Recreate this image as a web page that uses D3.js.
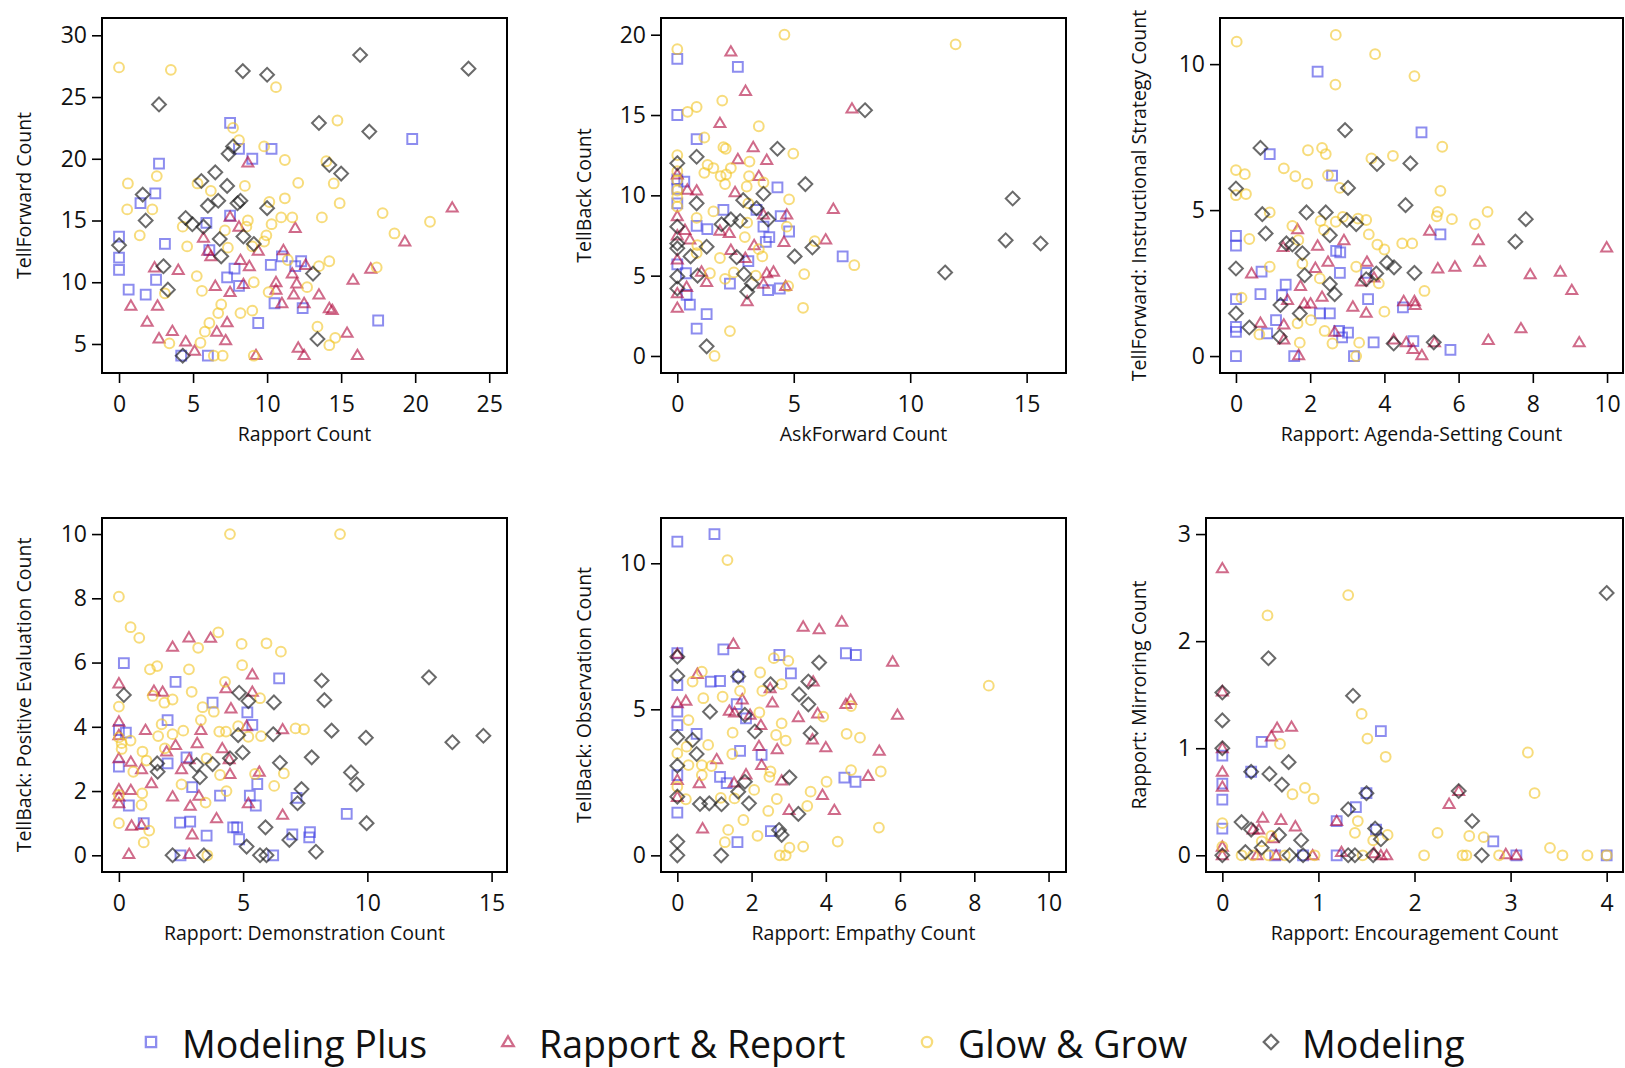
<!DOCTYPE html>
<html>
<head>
<meta charset="utf-8">
<script src="https://cdn.jsdelivr.net/npm/d3@7"></script>
<style>
  body { margin: 0; background: #fff; }
  svg { display: block; }
  text { font-family: "Open Sans", sans-serif; fill: #111; }
</style>
</head>
<body>
<svg id="chart" width="1625" height="1068"></svg>
<script>
// groups, in legend order
const groups = ["Modeling Plus", "Rapport & Report", "Glow & Grow", "Modeling"];

// panel 1: Rapport Count vs TellForward Count
const p1MP = [[7.5,22.9],[19.8,21.6],[8.1,20.8],[10.3,20.8],[9.0,20.0],[2.7,19.6],[2.45,17.2],[1.45,16.4],[5.9,14.8],[7.5,15.4],[0,13.7],[3.1,13.1],[6.1,12.6],[0,12.0],[0,11.0],[0.65,9.4],[1.8,9.0],[7.3,10.4],[7.8,11.1],[8.1,9.7],[10.25,11.4],[11.0,12.1],[11.9,11.3],[12.3,11.7],[10.5,8.3],[12.4,7.9],[9.4,6.7],[17.5,6.9],[6.0,4.05],[4.2,4.05],[2.5,10.2]];
const p1RR = [[8.7,19.7],[22.5,16.05],[7.5,15.3],[8.1,14.5],[11.9,14.4],[5.7,13.6],[19.3,13.3],[6.0,12.55],[6.2,12.1],[9.4,12.55],[11.1,12.6],[8.2,11.8],[2.4,11.2],[4.0,11.0],[8.8,11.3],[11.7,10.7],[12.6,11.4],[17.0,11.1],[10.6,10.0],[15.8,10.2],[6.5,9.7],[8.4,9.85],[12.0,9.9],[10.6,9.4],[7.5,9.2],[11.8,9.0],[13.5,9.0],[0.8,8.1],[2.6,8.1],[11.0,8.3],[12.5,8.3],[14.2,7.9],[14.4,7.75],[1.9,6.8],[7.3,6.75],[2.7,5.45],[3.6,6.05],[6.6,6.0],[7.2,5.3],[4.5,5.2],[5.1,4.45],[15.4,5.9],[12.1,4.7],[12.5,4.1],[16.1,4.1],[9.25,4.1]];
const p1GG = [[0,27.4],[3.5,27.2],[10.6,25.8],[14.75,23.1],[7.7,22.5],[8.1,21.5],[9.8,21.0],[11.2,19.9],[14.0,19.8],[2.55,18.6],[0.6,18.0],[5.3,18.0],[8.5,17.8],[12.1,18.05],[14.5,18.0],[6.2,17.4],[11.2,16.8],[10.15,16.5],[14.9,16.4],[0.55,15.9],[2.25,15.9],[17.8,15.6],[8.7,15.0],[13.7,15.25],[10.95,15.25],[11.7,15.25],[10.3,14.7],[21.0,14.9],[4.3,14.5],[7.15,14.2],[1.4,13.8],[9.95,13.8],[8.6,14.5],[18.6,13.95],[4.6,12.9],[7.35,12.8],[9.0,12.9],[9.8,13.3],[11.4,11.8],[13.5,11.3],[14.2,11.7],[17.4,11.2],[5.25,10.5],[5.6,9.3],[9.1,10.0],[10.1,9.2],[12.7,9.6],[6.9,8.2],[6.7,7.5],[8.2,7.5],[9.0,7.7],[6.1,6.7],[5.8,6.0],[5.5,5.1],[3.4,5.05],[13.4,6.4],[14.6,5.5],[14.2,4.9],[6.4,4.05],[7.0,4.05],[9.1,4.05],[3.1,9.1]];
const p1MO = [[16.28,28.4],[8.36,27.1],[10.0,26.8],[23.6,27.3],[2.7,24.4],[13.5,22.9],[16.9,22.2],[7.7,21.0],[7.4,20.4],[14.2,19.5],[15.0,18.8],[6.5,18.9],[5.56,18.2],[7.3,17.8],[1.6,17.1],[6.0,16.2],[6.7,16.6],[8.2,16.6],[8.0,16.4],[10.0,16.0],[1.8,15.0],[4.5,15.2],[4.95,14.7],[5.7,14.5],[6.8,13.5],[8.4,13.7],[9.1,13.1],[0,13.0],[6.9,12.1],[3.0,11.3],[13.1,10.7],[3.3,9.4],[13.4,5.4],[4.3,4.05]];

// panel 2: AskForward Count vs TellBack Count
const p2MP = [[0,18.5],[2.6,18.0],[0,15.0],[0.83,13.5],[0.3,10.85],[0,11.0],[0,10.4],[0,9.5],[4.3,10.5],[1.98,9.1],[3.4,9.1],[4.44,8.7],[0.83,8.1],[1.29,7.9],[3.7,8.05],[4.8,7.75],[3.95,7.4],[3.8,7.1],[7.1,6.2],[3.05,5.9],[0.37,5.15],[0,5.7],[2.26,4.5],[0.4,3.8],[0.54,3.2],[3.9,4.1],[4.4,4.2],[1.26,2.6],[0.83,1.7]];
const p2RR = [[2.3,18.95],[2.93,16.5],[7.5,15.4],[1.83,14.5],[3.26,13.0],[2.6,12.25],[3.84,12.2],[0,11.3],[3.5,11.2],[0.43,10.35],[0.83,10.3],[2.48,10.2],[6.7,9.15],[4.7,8.8],[0,8.7],[3.7,8.8],[1.83,7.8],[2.23,7.65],[0.33,7.85],[0.54,7.25],[0,7.5],[4.58,7.1],[3.3,6.9],[6.37,7.25],[2.3,6.6],[2.92,6.1],[0,6.0],[3.84,5.15],[4.13,5.25],[1.04,5.25],[1.26,4.6],[0.4,4.3],[3.7,4.5],[4.65,4.35],[0,3.9],[3.0,3.4],[0,3.0]];
const p2GG = [[4.6,20.0],[11.95,19.4],[0,19.1],[1.93,15.9],[0.44,15.2],[0.83,15.5],[3.5,14.3],[1.16,13.6],[1.98,13.0],[2.08,12.9],[0,12.5],[4.98,12.6],[3.1,12.1],[1.3,11.9],[1.55,11.7],[2.3,11.7],[1.16,11.4],[1.86,11.2],[2.1,11.3],[3.08,11.2],[0,10.95],[2.05,10.7],[2.98,10.55],[3.7,10.8],[4.8,9.75],[0,9.9],[1.55,9.0],[3.05,9.5],[0.83,8.6],[3.0,8.3],[4.7,8.05],[0.86,6.9],[2.9,7.4],[5.9,7.15],[3.5,6.65],[3.65,6.2],[0.83,6.4],[1.83,6.1],[1.4,5.15],[2.05,4.8],[2.43,5.2],[3.37,5.0],[5.45,5.1],[7.6,5.65],[4.76,4.35],[5.4,3.0],[2.26,1.55],[1.6,0],[0,9.3],[0,10.3],[0,11.5]];
const p2MO = [[8.06,15.3],[4.3,12.9],[0.83,12.4],[0,12.0],[5.5,10.7],[14.4,9.8],[0.83,9.5],[2.83,9.7],[3.7,10.1],[3.4,9.2],[3.9,8.5],[2.7,8.4],[2.3,8.5],[1.9,8.2],[0,8.05],[0,7.0],[0,6.7],[1.26,6.8],[0.57,6.2],[2.55,6.15],[5.04,6.2],[5.8,6.75],[14.1,7.2],[15.6,7.0],[11.5,5.2],[2.86,5.1],[3.2,4.5],[3.0,4.0],[0.87,5.0],[0,4.95],[0,4.2],[1.26,0.6]];

// panel 3: Rapport: Agenda-Setting Count vs TellForward: Instructional Strategy Count
const p3MP = [[2.2,9.74],[5.0,7.66],[0.91,6.92],[2.59,6.18],[0,4.12],[0,3.78],[5.51,4.17],[2.7,3.6],[2.81,3.55],[0.69,2.89],[2.8,2.85],[3.51,2.85],[1.34,2.45],[0.66,2.12],[1.24,2.09],[3.56,1.95],[0,1.95],[2.26,1.46],[2.53,1.46],[4.5,1.67],[1.08,1.23],[0,1.0],[0,0.83],[0.84,0.78],[2.78,0.86],[3.02,0.8],[2.86,0.64],[3.71,0.47],[4.78,0.51],[5.78,0.21],[0,0],[1.57,0],[3.18,0]];
const p3RR = [[1.66,4.34],[5.22,4.29],[2.2,3.78],[2.91,3.97],[1.27,3.74],[6.53,3.97],[9.99,3.72],[2.48,3.23],[3.53,3.23],[6.57,3.23],[0.42,2.83],[2.14,3.02],[5.44,3.0],[5.9,3.06],[7.93,2.8],[8.74,2.89],[3.38,2.55],[3.72,2.69],[1.74,2.4],[9.05,2.26],[2.32,2.03],[1.39,1.92],[1.84,1.8],[2.01,1.8],[4.52,1.88],[4.81,1.88],[3.15,1.69],[4.83,1.75],[3.51,1.48],[0.66,1.14],[1.29,1.08],[7.68,0.95],[2.66,0.83],[1.29,0.57],[6.8,0.55],[4.25,0.57],[4.59,0.47],[4.77,0.24],[9.25,0.47],[5.01,0.03],[1.69,0.03],[5.35,0.47]];
const p3GG = [[0.02,10.77],[2.69,11.0],[3.75,10.34],[2.68,9.3],[4.81,9.59],[2.32,7.13],[1.94,7.05],[2.42,6.92],[5.56,7.17],[4.23,6.86],[3.65,6.77],[0,6.37],[0.24,6.23],[1.29,6.43],[1.6,6.16],[1.92,5.91],[2.48,6.2],[2.8,5.76],[0,5.51],[0.27,5.55],[5.51,5.66],[0.91,4.92],[2.28,4.63],[2.69,4.6],[2.88,4.77],[3.29,4.71],[3.51,4.66],[5.44,4.94],[5.41,4.79],[5.82,4.69],[6.78,4.94],[6.44,4.52],[1.52,4.46],[2.37,4.32],[3.58,4.17],[0.36,4.01],[1.68,3.97],[3.81,3.82],[4.0,3.65],[4.48,3.86],[4.75,3.86],[1.79,3.17],[0.91,3.06],[3.24,3.06],[2.26,2.66],[3.85,2.49],[5.08,2.23],[0.15,2.0],[4.0,1.52],[2.02,1.23],[1.66,1.12],[2.39,0.86],[0.63,0.74],[1.72,0.46],[2.6,0.43],[3.32,0.46],[3.24,0]];
const p3MO = [[2.94,7.74],[0.66,7.13],[3.8,6.58],[4.7,6.6],[0,5.74],[3.02,5.76],[4.57,5.17],[0.71,4.86],[1.9,4.92],[2.42,4.92],[2.99,4.66],[3.24,4.52],[7.81,4.69],[0.8,4.2],[2.53,4.14],[1.36,3.86],[1.52,3.82],[1.79,3.52],[7.53,3.92],[0,3.0],[1.85,2.77],[4.07,3.2],[4.26,3.04],[3.78,2.83],[3.51,2.63],[4.81,2.85],[2.53,2.47],[2.66,2.12],[1.2,1.75],[1.72,1.46],[0,1.46],[0.36,0.98],[1.18,0.66],[4.25,0.43],[5.33,0.47]];

// panel 4: Rapport: Demonstration Count vs TellBack: Positive Evaluation Count
const p4MP = [[0.2,5.98],[6.45,5.51],[2.28,5.4],[3.77,4.75],[5.17,4.45],[5.37,4.06],[1.96,4.21],[0,3.9],[0.28,3.82],[0,2.76],[2.72,3.05],[1.96,2.86],[2.95,2.12],[5.57,2.22],[4.07,1.86],[5.27,1.86],[5.51,1.55],[7.15,1.79],[9.17,1.29],[0.4,1.55],[1.0,1.0],[2.46,1.02],[2.87,1.05],[4.6,0.87],[4.76,0.87],[4.84,0.5],[3.53,0.61],[7.69,0.72],[7.66,0.56],[6.98,0.65],[2.48,0],[6.21,0]];
const p4RR = [[2.82,6.78],[3.69,6.77],[2.16,6.49],[0,5.35],[5.37,5.63],[1.41,5.12],[1.76,5.09],[4.31,5.2],[5.37,5.09],[4.51,4.57],[0,4.16],[5.14,4.02],[6.59,3.92],[1.07,3.9],[3.3,3.9],[0,3.74],[3.15,3.49],[2.28,3.43],[4.16,3.33],[1.92,3.23],[0,3.02],[0.48,2.91],[0.91,2.68],[2.83,2.99],[4.44,2.99],[2.52,2.68],[4.47,2.53],[5.65,2.6],[1.31,2.24],[0,2.05],[0.48,2.03],[0,1.83],[0,1.62],[2.16,1.83],[3.22,1.85],[2.87,1.54],[5.21,1.62],[6.59,1.26],[3.93,1.15],[0.51,0.92],[0.91,0.94],[2.95,0.65],[0.4,0.04],[2.83,0.04]];
const p4GG = [[4.47,10.0],[8.9,10.0],[0,8.05],[0.47,7.1],[0.82,6.77],[4.0,6.94],[3.19,6.46],[4.94,6.58],[5.94,6.6],[6.52,6.34],[1.54,5.89],[1.25,5.79],[2.82,5.79],[4.96,5.92],[2.93,5.09],[4.27,5.4],[1.36,4.96],[2.16,4.85],[1.83,4.75],[5.68,4.89],[0,4.63],[3.37,4.61],[3.82,4.47],[3.3,4.21],[1.72,4.08],[7.11,3.95],[7.45,3.92],[4.8,4.02],[2.59,3.88],[4.04,3.85],[4.31,3.85],[5.21,3.69],[5.72,3.71],[1.58,3.71],[2.16,3.77],[0,3.67],[0.11,3.49],[0.47,3.57],[0.11,3.31],[1.85,3.33],[0.95,3.23],[3.53,3.02],[1.11,2.95],[0.58,2.6],[4.07,2.5],[5.48,2.53],[6.64,2.55],[2.52,2.21],[6.25,2.16],[4.33,2.0],[0,1.88],[0.94,1.93],[0.91,1.57],[3.49,1.64],[0,1.0],[1.22,0.77],[1.0,0.4],[3.56,0]];
const p4MO = [[12.48,5.54],[8.16,5.44],[8.27,4.83],[0.2,4.99],[4.84,5.06],[5.21,4.8],[6.24,4.76],[8.56,3.88],[13.42,3.52],[14.67,3.72],[9.94,3.66],[6.21,3.77],[4.8,3.74],[4.98,3.2],[4.47,3.02],[6.48,2.88],[7.76,3.05],[1.54,2.86],[1.56,2.6],[3.13,2.81],[3.26,2.43],[3.77,2.84],[9.34,2.58],[9.57,2.21],[7.35,2.06],[7.19,1.62],[9.97,1.0],[5.9,0.87],[5.14,0.27],[6.86,0.48],[7.93,0.11],[2.16,0],[3.42,0],[5.68,0],[5.94,0]];

// panel 5: Rapport: Empathy Count vs TellBack: Observation Count
const p5MP = [[0,10.74],[1.0,11.0],[1.24,7.05],[2.75,6.86],[4.54,6.92],[4.81,6.86],[0,6.92],[3.06,6.23],[0,5.83],[0.9,5.95],[1.15,5.97],[1.64,6.12],[1.6,5.18],[1.85,4.69],[0,4.92],[0,4.46],[0.52,4.16],[1.69,3.58],[2.27,3.44],[0,2.75],[1.15,2.69],[1.33,2.47],[4.5,2.66],[4.8,2.52],[0,1.46],[2.52,0.83],[1.62,0.45]];
const p5RR = [[4.43,8.0],[3.39,7.83],[3.82,7.74],[1.51,7.24],[0,6.9],[5.8,6.63],[0.54,6.21],[3.66,5.95],[2.5,5.72],[0,5.21],[0.23,5.29],[1.75,5.34],[2.56,5.23],[4.54,5.18],[4.67,5.32],[1.4,4.95],[1.54,4.89],[3.78,4.86],[1.96,4.81],[5.93,4.81],[3.26,4.73],[2.25,4.46],[3.64,3.97],[2.2,3.74],[4.0,3.7],[2.69,3.63],[5.44,3.58],[1.06,3.29],[2.27,3.09],[1.85,2.77],[5.14,2.72],[0,2.58],[0.59,2.47],[1.53,2.49],[2.81,2.56],[3.91,2.07],[3.01,1.55],[4.23,1.55],[0.68,0.92],[0,2.0]];
const p5GG = [[1.35,10.11],[8.39,5.81],[2.6,6.75],[2.99,6.66],[0.66,6.29],[0.41,5.95],[2.23,6.26],[2.81,5.86],[2.29,5.63],[1.22,5.43],[1.69,5.63],[0.7,5.38],[2.21,4.89],[0.3,4.63],[2.81,4.52],[3.93,4.75],[4.68,5.11],[1.49,4.2],[2.66,4.12],[4.56,4.16],[4.92,4.03],[2.92,3.93],[0.83,3.78],[0.25,3.72],[0,3.49],[1.48,3.47],[0.3,3.09],[0.66,3.09],[0.92,3.06],[0.66,2.75],[0,2.35],[2.51,2.87],[2.48,2.69],[4.02,2.52],[4.68,2.92],[5.48,2.87],[2.07,2.24],[3.59,2.18],[0.23,1.92],[1.17,1.97],[1.54,1.95],[2.68,1.93],[2.45,1.52],[3.5,1.69],[1.78,1.21],[1.37,0.87],[5.43,0.95],[2.16,0.67],[1.28,0.45],[3.02,0.26],[3.39,0.3],[4.32,0.47],[2.76,0],[2.92,0]];
const p5MO = [[0,6.8],[3.82,6.6],[0,6.14],[1.64,6.12],[2.51,5.86],[3.53,5.95],[3.28,5.51],[3.53,5.17],[0.88,4.92],[1.82,4.81],[2.09,4.24],[3.59,4.18],[0,4.04],[0.41,3.95],[0.52,3.47],[0,3.07],[3.02,2.67],[1.82,2.52],[0,2.01],[0.61,1.76],[0.86,1.78],[1.19,1.75],[1.93,1.78],[3.26,1.42],[2.74,0.87],[2.81,0.7],[0,0.47],[0,0],[1.18,0],[1.64,2.18]];

// panel 6: Rapport: Encouragement Count vs Rapport: Mirroring Count
const p6MP = [[0.41,1.06],[1.65,1.16],[0,0.93],[0,0.67],[0,0.52],[0,0.25],[0.3,0.78],[1.39,0.45],[1.19,0.32],[1.5,0.58],[1.6,0.24],[2.82,0.13],[3.06,0],[0.55,0],[0.84,0],[1.19,0],[4.0,0]];
const p6RR = [[0,2.68],[0.57,1.19],[0.72,1.2],[0.51,1.11],[0,1.53],[0,1.0],[0,0.78],[0,0.64],[0.42,0.35],[0.61,0.33],[0.76,0.27],[0.38,0.24],[0.53,0.16],[1.19,0.32],[0.32,0.24],[2.36,0.48],[2.46,0.6],[2.95,0.01],[3.06,0],[0,0],[0.56,0],[1.58,0.02],[1.65,0],[1.71,0],[1.24,0.03],[0.94,0],[0.36,0],[0,0.08]];
const p6GG = [[1.31,2.43],[0.47,2.24],[1.45,1.32],[1.51,1.09],[0.6,1.04],[1.7,0.92],[3.18,0.96],[0.86,0.63],[0.73,0.57],[0.95,0.53],[3.25,0.58],[1.41,0.32],[0,0.3],[1.38,0.21],[2.24,0.21],[2.57,0.18],[2.72,0.17],[1.72,0.19],[1.57,0.14],[0.41,0.13],[0.51,0.18],[0,0.08],[3.41,0.07],[0.96,0],[2.1,0],[2.5,0],[2.54,0],[2.88,0],[3.54,0],[3.8,0],[4.0,0],[0.2,0],[0.32,0],[0.48,0],[0.65,0],[1.46,0]];
const p6MO = [[4.0,2.45],[0.48,1.84],[0,1.52],[1.36,1.49],[0,1.26],[0,1.0],[0.69,0.87],[0.3,0.78],[0.49,0.76],[0.62,0.66],[1.5,0.58],[1.31,0.43],[2.46,0.6],[2.6,0.32],[0.2,0.31],[0.3,0.24],[0.59,0.19],[0.82,0.14],[1.59,0.25],[1.65,0.15],[0.41,0.07],[0,0],[0.24,0.03],[0.7,0],[0.84,0],[1.31,0],[1.38,0],[1.57,0],[2.7,0]];

// axis labels and ticks
const xLabels = ["Rapport Count", "AskForward Count", "Rapport: Agenda-Setting Count",
  "Rapport: Demonstration Count", "Rapport: Empathy Count", "Rapport: Encouragement Count"];
const yLabels = ["TellForward Count", "TellBack Count", "TellForward: Instructional Strategy Count",
  "TellBack: Positive Evaluation Count", "TellBack: Observation Count", "Rapport: Mirroring Count"];
const xTicks = [[0,5,10,15,20,25],[0,5,10,15],[0,2,4,6,8,10],[0,5,10,15],[0,2,4,6,8,10],[0,1,2,3,4]];
const yTicks = [[5,10,15,20,25,30],[0,5,10,15,20],[0,5,10],[0,2,4,6,8,10],[0,5,10],[0,1,2,3]];
const xDomains = [[-1.15,26.2],[-0.7,16.69],[-0.43,10.43],[-0.68,15.62],[-0.44,10.47],[-0.17,4.17]];
const yDomains = [[2.65,31.4],[-1.06,21.04],[-0.58,11.58],[-0.52,10.5],[-0.57,11.55],[-0.156,3.15]];
const panelData = [
  [p1MP, p1RR, p1GG, p1MO], [p2MP, p2RR, p2GG, p2MO], [p3MP, p3RR, p3GG, p3MO],
  [p4MP, p4RR, p4GG, p4MO], [p5MP, p5RR, p5GG, p5MO], [p6MP, p6RR, p6GG, p6MO]
];

// layout (plot frames in px: left, top, right, bottom)
const frames = [[102,18,507,373],[661,18,1066,373],[1220,18,1623,373],
                [102,518,507,872],[661,518,1066,872],[1206,518,1623,872]];
const yTitleX = [31, 591, 1146, 31, 591, 1146];

const styles = [
  { shape: "square",   color: "#3a3ae3", opacity: 0.58 },
  { shape: "triangle", color: "#b0093c", opacity: 0.6 },
  { shape: "circle",   color: "#f2c525", opacity: 0.6 },
  { shape: "diamond",  color: "#1a1a1a", opacity: 0.65 }
];

function shapePath(shape, k) {
  k = k || 1;
  if (shape === "square") { const h = 4.9 * k; return `M${-h},${-h}H${h}V${h}H${-h}Z`; }
  if (shape === "triangle") { const w = 5.5 * k; return `M0,${-5.4 * k}L${w},${4 * k}L${-w},${4 * k}Z`; }
  if (shape === "diamond") { const h = 6.9 * k; return `M0,${-h}L${h},0L0,${h}L${-h},0Z`; }
  const r = 4.9 * k;
  return `M${r},0A${r},${r} 0 1,1 ${-r},0A${r},${r} 0 1,1 ${r},0Z`;
}

const svg = d3.select("#chart");
const fmt = d3.format("~g");

panelData.forEach((series, i) => {
  const [l, t, r, b] = frames[i];
  const x = d3.scaleLinear().domain(xDomains[i]).range([l, r]);
  const y = d3.scaleLinear().domain(yDomains[i]).range([b, t]);
  const g = svg.append("g");

  // points
  series.forEach((pts, s) => {
    const st = styles[s];
    g.append("g")
      .selectAll("path")
      .data(pts)
      .join("path")
      .attr("transform", d => `translate(${x(d[0])},${y(d[1])})`)
      .attr("d", shapePath(st.shape))
      .attr("fill", "none")
      .attr("stroke", st.color)
      .attr("stroke-opacity", st.opacity)
      .attr("stroke-width", 2);
  });

  // frame
  g.append("rect")
    .attr("x", l).attr("y", t)
    .attr("width", r - l).attr("height", b - t)
    .attr("fill", "none").attr("stroke", "#000").attr("stroke-width", 2);

  // axes
  const ax = g.append("g")
    .attr("transform", `translate(0,${b})`)
    .call(d3.axisBottom(x).tickValues(xTicks[i]).tickFormat(fmt).tickSize(10).tickPadding(13).tickSizeOuter(0));
  const ay = g.append("g")
    .attr("transform", `translate(${l},0)`)
    .call(d3.axisLeft(y).tickValues(yTicks[i]).tickFormat(fmt).tickSize(10).tickPadding(5).tickSizeOuter(0));
  [ax, ay].forEach(a => {
    a.select(".domain").remove();
    a.selectAll("line").attr("stroke", "#000").attr("stroke-width", 1.6);
    a.selectAll("text").style("font-family", '"Open Sans", sans-serif')
      .style("font-size", "23px").attr("fill", "#111");
  });

  // titles
  g.append("text")
    .attr("x", (l + r) / 2).attr("y", b + 68)
    .attr("text-anchor", "middle")
    .style("font-size", "19.5px")
    .text(xLabels[i]);
  g.append("text")
    .attr("transform", `translate(${yTitleX[i]},${(t + b) / 2}) rotate(-90)`)
    .attr("text-anchor", "middle")
    .style("font-size", "19.5px")
    .text(yLabels[i]);
});

// legend
const legendX = [151, 508, 927, 1271];
const legend = svg.append("g");
groups.forEach((name, s) => {
  const st = styles[s];
  legend.append("path")
    .attr("transform", `translate(${legendX[s]},1042)`)
    .attr("d", shapePath(st.shape, 1.05))
    .attr("fill", "none")
    .attr("stroke", st.color)
    .attr("stroke-opacity", st.opacity)
    .attr("stroke-width", 2.3);
  legend.append("text")
    .attr("x", legendX[s] + 31)
    .attr("y", 1058)
    .style("font-size", "37.5px")
    .text(name);
});
</script>
</body>
</html>
